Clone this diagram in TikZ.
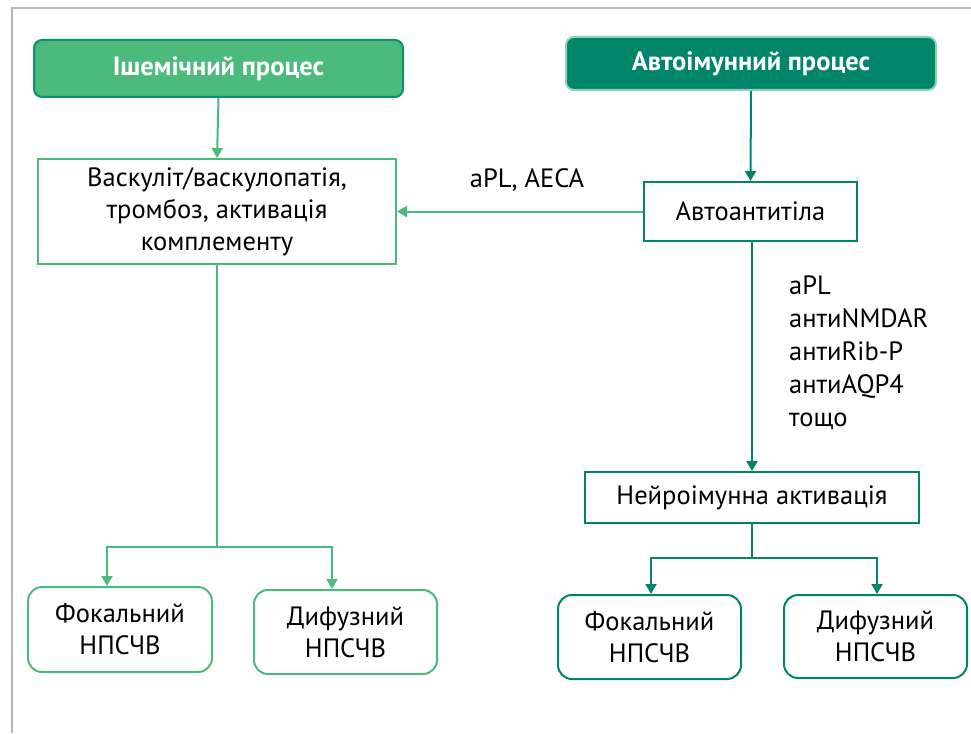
\documentclass[tikz,border=0pt]{standalone}
\usepackage{fontspec}
\setmainfont{PT Sans}
\usetikzlibrary{arrows.meta}
\definecolor{lg}{HTML}{4BBA7C}
\definecolor{dg}{HTML}{00846A}
\definecolor{mint}{HTML}{8CD3B6}
\definecolor{framec}{HTML}{B4B4B4}
\begin{document}
\begin{tikzpicture}[x=1pt,y=-1pt,
  txt/.style={font=\fontsize{26.5}{32}\selectfont, text=black, align=center, inner sep=0pt},
  head/.style={font=\fontsize{26.5}{30}\selectfont\bfseries, text=white, rounded corners=8pt, line width=2pt, inner sep=0pt},
  plainbox/.style={txt, draw, line width=2pt},
  roundbox/.style={txt, draw, line width=2pt, rounded corners=14pt},
  conn/.style={line width=2pt},
  arr/.style={conn, -{Triangle[width=11pt,length=10pt]}}
]
\useasboundingbox (0,0) rectangle (971,733);
\fill[white] (0,0) rectangle (971,733);
\draw[framec, line width=1.5pt] (12,733) -- (12,8) -- (971,8);

% headers
\node[head, fill=lg, draw=dg!80!lg, minimum width=369pt, minimum height=57pt] (ish) at (218.5,68.5) {Ішемічний процес};
\node[head, fill=dg, draw=mint, minimum width=370pt, minimum height=53pt] (auto) at (751,63.5) {Автоімунний процес};

% middle boxes
\node[plainbox, draw=lg, minimum width=358pt, minimum height=105pt] (vasc) at (217,211.5) {Васкуліт/васкулопатія,\\тромбоз, активація\\комплементу};
\node[plainbox, draw=dg, minimum width=213pt, minimum height=59pt] (aab) at (750.5,211.5) {Автоантитіла};
\node[plainbox, draw=dg, minimum width=334pt, minimum height=51pt] (neuro) at (752,497.5) {Нейроімунна активація};

% bottom boxes
\node[roundbox, draw=lg, minimum width=184pt, minimum height=85pt] (fl) at (120,629.5) {Фокальний\\НПСЧВ};
\node[roundbox, draw=lg, minimum width=183pt, minimum height=84pt] (dl) at (345.5,632) {Дифузний\\НПСЧВ};
\node[roundbox, draw=dg, minimum width=183pt, minimum height=84pt] (fr) at (649.5,637) {Фокальний\\НПСЧВ};
\node[roundbox, draw=dg, minimum width=183pt, minimum height=83pt] (dr) at (875.5,636.5) {Дифузний\\НПСЧВ};

% labels
\node[txt] (lab1) at (527,180) {aPL, AECA};
\node[txt, align=left, anchor=west, font=\fontsize{26.5}{33}\selectfont] (lab2) at (789,352.5) {aPL\\антиNMDAR\\антиRib-P\\антиAQP4\\тощо};

% connectors left
\draw[arr, lg] (ish.south) -- (vasc.north);
\draw[arr, lg] (aab.west) -- (vasc.east |- aab.west);
\coordinate (jl) at (217,547);
\draw[conn, lg] (vasc.south) -- ([yshift=1pt]jl);
\draw[arr, lg] (jl) -| ([xshift=-13pt]fl.north);
\draw[arr, lg] (jl) -| ([xshift=-13.5pt]dl.north);

% connectors right
\draw[arr, dg] (auto.south) -- (aab.north);
\draw[arr, dg] ([xshift=1.5pt]aab.south) -- (neuro.north);
\coordinate (jr) at (752,558);
\draw[conn, dg] (neuro.south) -- (jr);
\draw[arr, dg] (jr) -| ([xshift=1.5pt]fr.north);
\draw[arr, dg] (jr) -| ([xshift=1.5pt]dr.north);
\end{tikzpicture}
\end{document}
